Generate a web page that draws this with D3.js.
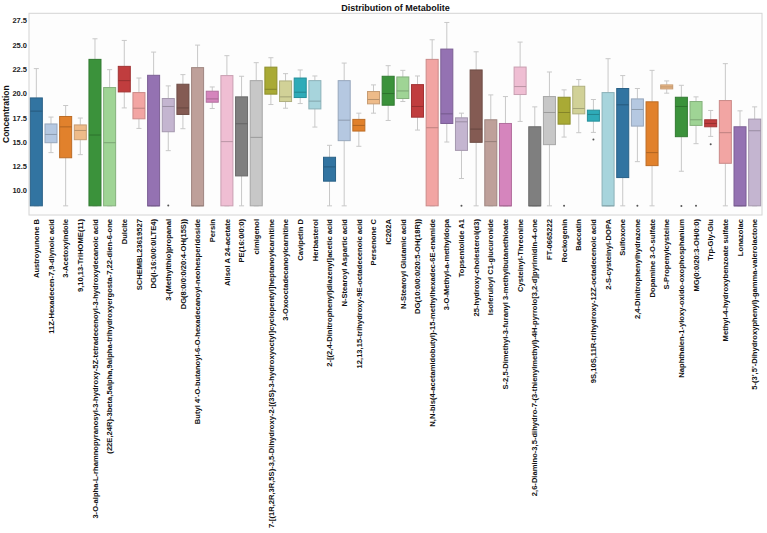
<!DOCTYPE html>
<html>
<head>
<meta charset="utf-8">
<script src="https://cdn.jsdelivr.net/npm/d3@7"></script>
<style>
  body { margin: 0; background: #fff; }
  text { font-family: "Liberation Sans", Arial, sans-serif; font-weight: bold; }
</style>
</head>
<body>
<div id="chart"></div>
<script>
// Metabolite names (x categories)
const categories = [
  "Austroyunone B", "11Z-Hexadecen-7,9-diynoic acid", "3-Acetoxyindole", "9,10,13-TriHOME(11)",
  "3-O-alpha-L-rhamnopyranosyl-3-hydroxy-5Z-tetradecenoyl-3-hydroxydecanoic acid",
  "(22E,24R)-3beta,5alpha,9alpha-trihydroxyergosta-7,22-dien-6-one", "Dulcite", "SCHEMBL23619527",
  "DG(i-16:0/0:0/LTE4)", "3-(Methylthio)propanal", "DG(8:0/0:0/20:4-OH(15S))",
  "Butyl 4'-O-butanoyl-6-O-hexadecanoyl-neohesperidoside", "Persin", "Alisol A 24-acetate",
  "PE(16:0/0:0)", "cimigenol",
  "7-[(1R,2R,3R,5S)-3,5-Dihydroxy-2-[(3S)-3-hydroxyoctyl]cyclopentyl]heptanoylcarnitine",
  "3-Oxooctadecanoylcarnitine", "Cavipetin D", "Herbasterol",
  "2-[(2,4-Dinitrophenyl)diazenyl]acetic acid", "N-Stearoyl Aspartic acid",
  "12,13,15-trihydroxy-9E-octadecenoic acid", "Persenone C", "IC202A", "N-Stearoyl Glutamic acid",
  "DG(10:0/0:0/20:5-OH(18R))", "N,N-bis(4-acetamidobutyl)-15-methylhexadec-6E-enamide",
  "3-O-Methyl-a-methyldopa", "Topsentolide A1", "25-hydroxy-cholesterol(d3)",
  "Isoferuloyl C1-glucuronide", "S-2,5-Dimethyl-3-furanyl 3-methylbutanethioate",
  "Cysteinyl-Threonine",
  "2,6-Diamino-3,5-dihydro-7-(3-thienylmethyl)-4H-pyrrolo[3,2-d]pyrimidin-4-one",
  "FT-0665222", "Rockogenin", "Baccatin", "9S,10S,11R-trihydroxy-12Z-octadecenoic acid",
  "2-S-cysteinyl-DOPA", "Sulfoxone", "2,4-Dinitrophenylhydrazone", "Dopamine 3-O-sulfate",
  "S-Propenylcysteine", "Naphthalen-1-yloxy-oxido-oxophosphanium", "MG(0:0/20:3-OH/0:0)",
  "Trp-Gly-Glu", "Methyl-4-hydroxybenzoate sulfate", "Lonazolac",
  "5-(3',5'-Dihydroxyphenyl)-gamma-valerolactone"
];

// box statistics
const whiskerLow = [
  8.42, 13.9, 8.42, 13.69, 8.42, 8.42, 18.5, 16.39, 8.42, 14.1,
  16.36, 8.42, 18.44, 8.42, 8.42, 8.42, 18.85, 18.47, 18.95, 16.53,
  8.42, 8.42, 14.55, 17.96, 17.21, 19.16, 16.22, 8.42, 14.99, 11.23,
  8.42, 8.42, 8.42, 17.11, 8.42, 8.42, 15.5, 15.95, 15.98, 8.42,
  8.42, 12.97, 8.42, 20.02, 11.98, 14.82, 15.57, 8.42, 8.42, 8.42
];
const q1 = [
  8.42, 14.92, 13.37, 15.23, 8.42, 8.42, 20.15, 17.38, 8.42, 16.05,
  17.83, 8.42, 19.09, 8.42, 11.5, 8.42, 19.92, 19.16, 19.57, 18.4,
  10.96, 15.13, 16.12, 18.92, 18.78, 19.47, 17.55, 8.42, 16.9, 14.13,
  14.96, 8.42, 8.42, 19.88, 8.42, 14.72, 16.83, 17.89, 17.14, 8.42,
  11.33, 16.63, 12.56, 20.46, 15.54, 16.7, 16.56, 12.8, 8.42, 8.42
];
const median = [
  18.17, 15.77, 16.55, 16.18, 15.71, 14.92, 21.31, 18.47, 8.42, 18.65,
  18.5, 8.42, 19.43, 15.03, 16.87, 15.47, 20.42, 19.64, 20.12, 19.2,
  12.43, 17.24, 16.7, 19.37, 19.98, 20.25, 18.65, 16.46, 17.89, 17.07,
  16.32, 15.03, 8.42, 20.7, 8.42, 18.03, 18.03, 18.44, 17.83, 8.42,
  18.82, 18.34, 13.9, 20.66, 18.65, 17.28, 16.9, 15.95, 8.42, 16.15
];
const q3 = [
  19.53, 16.85, 17.62, 16.75, 23.5, 20.6, 22.78, 20.08, 21.86, 19.47,
  20.94, 22.65, 20.22, 21.83, 19.64, 21.31, 22.7, 21.28, 21.58, 21.31,
  13.42, 21.31, 17.32, 20.19, 21.76, 21.69, 20.9, 23.5, 24.56, 17.48,
  22.41, 17.28, 16.9, 22.71, 16.56, 19.67, 19.6, 20.73, 18.27, 20.08,
  20.5, 19.43, 19.13, 20.87, 19.6, 19.16, 17.28, 19.26, 16.56, 17.35
];
const whiskerHigh = [
  22.55, 17.56, 18.75, 17.46, 25.62, 22.44, 25.45, 21.58, 24.25, 20.77,
  21.93, 24.97, 20.66, 23.88, 21.76, 23.16, 23.67, 22.03, 22.41, 21.79,
  14.65, 23.12, 17.96, 20.87, 22.85, 22.37, 21.79, 25.52, 27.3, 17.96,
  24.28, 19.84, 19.67, 25.28, 18.61, 22.2, 20.36, 21.42, 19.37, 23.57,
  21.83, 20.5, 22.37, 21.28, 20.83, 19.64, 18.24, 23.06, 18.2, 18.61
];
// outliers: [category index, value]
const outliers = [
  [9, 8.46], [29, 8.42], [36, 8.42], [38, 15.26], [41, 8.42],
  [44, 8.39], [45, 8.42], [46, 14.75]
];

const yTicks = [10.0, 12.5, 15.0, 17.5, 20.0, 22.5, 25.0, 27.5];
const palette = [
  "#1f77b4", "#aec7e8", "#ff7f0e", "#ffbb78", "#2ca02c", "#98df8a", "#d62728", "#ff9896",
  "#9467bd", "#c5b0d5", "#8c564b", "#c49c94", "#e377c2", "#f7b6d2", "#7f7f7f", "#c7c7c7",
  "#bcbd22", "#dbdb8d", "#17becf", "#9edae5"
];

const width = 767, height = 533;
const margin = { top: 13.3, right: 5, bottom: 318, left: 29 };

const svg = d3.select("#chart").append("svg")
  .attr("width", width)
  .attr("height", height);

// seaborn-like desaturation of the fill colours
const desat = c => {
  const h = d3.hsl(c);
  h.s *= 0.75;
  return h.formatHex();
};

const x = d3.scaleBand()
  .domain(categories)
  .range([margin.left, width - margin.right])
  .padding(0);

const lo = d3.min(whiskerLow), hi = d3.max(whiskerHigh);
const pad = (hi - lo) * 0.05;
const y = d3.scaleLinear()
  .domain([lo - pad, hi + pad])
  .range([height - margin.bottom, margin.top]);

// plot background + frame
svg.append("rect")
  .attr("x", margin.left)
  .attr("y", margin.top)
  .attr("width", width - margin.left - margin.right)
  .attr("height", height - margin.top - margin.bottom)
  .attr("fill", "#fdfdfd")
  .attr("stroke", "#d4d4d4")
  .attr("stroke-width", 1);

// y axis (labels only)
const yAxis = svg.append("g")
  .attr("transform", `translate(${margin.left},0)`)
  .call(d3.axisLeft(y).tickValues(yTicks).tickFormat(d3.format(".1f")).tickSize(0).tickPadding(2));
yAxis.select(".domain").remove();
yAxis.selectAll("text")
  .attr("font-size", 7.5)
  .attr("fill", "#222");

// x axis (rotated labels)
const xAxis = svg.append("g")
  .attr("transform", `translate(0,${height - margin.bottom})`)
  .call(d3.axisBottom(x).tickSize(0).tickPadding(3));
xAxis.select(".domain").remove();
xAxis.selectAll("text")
  .attr("font-size", 7.6)
  .attr("fill", "#111")
  .attr("text-anchor", "end")
  .attr("transform", "rotate(-90)")
  .attr("x", -4)
  .attr("y", 0)
  .attr("dy", "0.35em");

// boxes
const bw = x.bandwidth() * 0.82;
const capW = bw * 0.42;

const boxes = svg.append("g")
  .selectAll("g")
  .data(categories)
  .join("g")
  .attr("transform", d => `translate(${x(d) + x.bandwidth() / 2},0)`);

boxes.each(function(d, i) {
  const g = d3.select(this);
  const fill = desat(palette[i % palette.length]);
  const edge = d3.color(fill).darker(0.5);

  // whiskers
  g.append("line")
    .attr("y1", y(q3[i])).attr("y2", y(whiskerHigh[i]))
    .attr("stroke", "#c8c8c8").attr("stroke-width", 1);
  g.append("line")
    .attr("y1", y(q1[i])).attr("y2", y(whiskerLow[i]))
    .attr("stroke", "#c8c8c8").attr("stroke-width", 1);
  [whiskerHigh[i], whiskerLow[i]].forEach(v => {
    g.append("line")
      .attr("x1", -capW / 2).attr("x2", capW / 2)
      .attr("y1", y(v)).attr("y2", y(v))
      .attr("stroke", "#c8c8c8").attr("stroke-width", 1);
  });

  g.append("rect")
    .attr("x", -bw / 2)
    .attr("width", bw)
    .attr("y", y(q3[i]))
    .attr("height", Math.max(1, y(q1[i]) - y(q3[i])))
    .attr("fill", fill)
    .attr("stroke", edge)
    .attr("stroke-width", 1);

  g.append("line")
    .attr("x1", -bw / 2).attr("x2", bw / 2)
    .attr("y1", y(median[i])).attr("y2", y(median[i]))
    .attr("stroke", d3.color(fill).darker(0.7))
    .attr("stroke-width", 1);
});

// outliers
svg.append("g")
  .selectAll("circle")
  .data(outliers)
  .join("circle")
  .attr("cx", d => x(categories[d[0]]) + x.bandwidth() / 2)
  .attr("cy", d => y(d[1]))
  .attr("r", 1)
  .attr("fill", "#555");

// title
svg.append("text")
  .attr("x", (margin.left + width - margin.right) / 2)
  .attr("y", 10.5)
  .attr("text-anchor", "middle")
  .attr("font-size", 9)
  .attr("fill", "#111")
  .text("Distribution of Metabolite");

// y label
svg.append("text")
  .attr("transform", `translate(9,${(margin.top + height - margin.bottom) / 2}) rotate(-90)`)
  .attr("text-anchor", "middle")
  .attr("font-size", 8.5)
  .attr("fill", "#111")
  .text("Concentration");
</script>
</body>
</html>
